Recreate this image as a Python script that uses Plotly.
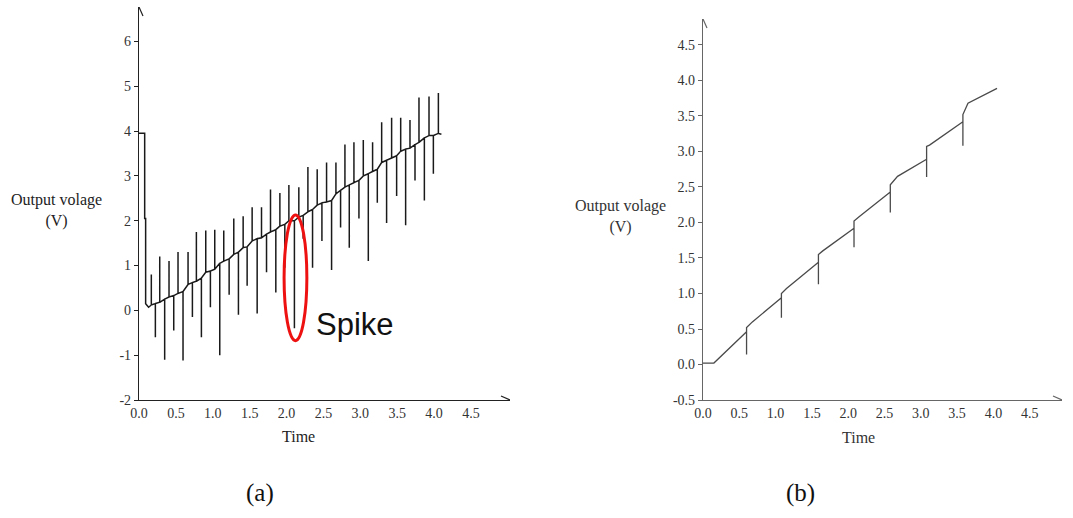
import plotly.graph_objects as go

# ---- panel (a): output voltage with spikes ----
a_start_t = [0.0, 0.077, 0.077, 0.09, 0.09, 0.13]
a_start_v = [3.95, 3.95, 2.05, 2.05, 0.15, 0.07]

a_spike_t = [0.167, 0.222, 0.281, 0.348, 0.407, 0.471, 0.529, 0.597, 0.665, 0.724,
             0.778, 0.846, 0.905, 0.968, 1.027, 1.095, 1.149, 1.222, 1.285, 1.348,
             1.412, 1.466, 1.534, 1.602, 1.661, 1.729, 1.783, 1.855, 1.910, 1.977,
             2.032, 2.107, 2.167, 2.226, 2.290, 2.353, 2.416, 2.480, 2.543, 2.611,
             2.670, 2.733, 2.792, 2.851, 2.914, 2.982, 3.041, 3.109, 3.167, 3.231,
             3.290, 3.357, 3.425, 3.493, 3.548, 3.615, 3.674, 3.742, 3.796, 3.869,
             3.932, 3.991, 4.059]
a_spike_base = [0.12, 0.15, 0.18, 0.25, 0.30, 0.33, 0.38, 0.42, 0.58, 0.62,
                0.65, 0.72, 0.85, 0.88, 0.92, 1.05, 1.10, 1.15, 1.25, 1.30,
                1.40, 1.42, 1.55, 1.60, 1.62, 1.70, 1.75, 1.80, 1.88, 1.92,
                2.00, 2.00, 2.08, 2.12, 2.20, 2.25, 2.35, 2.40, 2.42, 2.45,
                2.60, 2.68, 2.75, 2.80, 2.85, 2.90, 3.00, 3.05, 3.10, 3.15,
                3.30, 3.35, 3.40, 3.45, 3.55, 3.60, 3.62, 3.70, 3.75, 3.85,
                3.90, 3.90, 3.95]
a_spike_peak = [0.80, -0.60, 1.20, -1.10, 1.10, -0.45, 1.30, -1.12, 1.30, -0.15,
                1.75, -0.60, 1.78, 0.07, 1.80, -1.00, 1.78, 0.35, 2.05, -0.10,
                2.10, 0.55, 2.30, -0.07, 2.30, 0.85, 2.70, 0.40, 2.62, 0.95,
                2.80, -0.40, 2.75, 1.60, 3.20, 0.95, 3.15, 1.55, 3.30, 0.90,
                3.30, 1.85, 3.70, 1.40, 3.75, 2.05, 3.80, 1.10, 3.75, 2.40,
                4.20, 1.95, 4.30, 2.55, 4.30, 1.90, 4.25, 2.90, 4.75, 2.45,
                4.77, 3.05, 4.85]
a_end_t = [4.10]
a_end_v = [3.93]

# ---- panel (b): output voltage, spikes suppressed ----
b_start_t = [0.0, 0.15]
b_start_v = [0.02, 0.02]
b_jump_t = [0.60, 1.08, 1.59, 2.08, 2.58, 3.08, 3.58]
b_pre = [0.46, 0.94, 1.44, 1.92, 2.43, 2.89, 3.42]
b_dip = [0.14, 0.66, 1.13, 1.65, 2.14, 2.64, 3.08]
b_post = [0.52, 1.00, 1.55, 2.02, 2.53, 3.07, 3.52]
b_knee_t = [0.68, 1.15, 1.65, 2.15, 2.68, 3.12, 3.65]
b_knee_v = [0.60, 1.07, 1.60, 2.08, 2.65, 3.09, 3.68]
b_end_t = [4.05]
b_end_v = [3.89]

ticks_x = [0.0, 0.5, 1.0, 1.5, 2.0, 2.5, 3.0, 3.5, 4.0, 4.5]
ticks_a_y = [-2, -1, 0, 1, 2, 3, 4, 5, 6]
ticks_b_y = [-0.5, 0.0, 0.5, 1.0, 1.5, 2.0, 2.5, 3.0, 3.5, 4.0, 4.5]

# build the traces
ax_t, ax_v = list(a_start_t), list(a_start_v)
for t, b, p in zip(a_spike_t, a_spike_base, a_spike_peak):
    ax_t += [t, t, t]
    ax_v += [b, p, b]
ax_t += a_end_t
ax_v += a_end_v

bx_t, bx_v = list(b_start_t), list(b_start_v)
for t, pre, dip, post, kt, kv in zip(b_jump_t, b_pre, b_dip, b_post, b_knee_t, b_knee_v):
    bx_t += [t, t, t, t, kt]
    bx_v += [pre, dip, pre, post, kv]
bx_t += b_end_t
bx_v += b_end_v

W, H = 1073, 518
serif = "Liberation Serif, Times New Roman, serif"

fig = go.Figure()
fig.add_trace(go.Scatter(x=ax_t, y=ax_v, mode="lines", xaxis="x", yaxis="y",
                         line=dict(color="#1a1a1a", width=1.5), showlegend=False))
fig.add_trace(go.Scatter(x=bx_t, y=bx_v, mode="lines", xaxis="x2", yaxis="y2",
                         line=dict(color="#4a4a4a", width=1.3), showlegend=False))

xa_range = [0, 5.03]
ya_range = [-2, 6.77]
xb_range = [0, 4.945]
yb_range = [-0.5, 4.866]

axis_common = dict(showgrid=False, zeroline=False, showline=True, mirror=False,
                   automargin=False,
                   tickfont=dict(family=serif, size=14, color="#333"))

fig.update_layout(
    width=W, height=H,
    margin=dict(l=0, r=0, t=0, b=0, pad=0, autoexpand=False),
    showlegend=False,
    paper_bgcolor="white", plot_bgcolor="white",
    xaxis=dict(domain=[139 / W, 510 / W], range=xa_range, anchor="y",
               tickvals=ticks_x, ticktext=[f"{v:.1f}" for v in ticks_x], ticks="",
               linecolor="#222", linewidth=1.2, **axis_common),
    yaxis=dict(domain=[(H - 400) / H, (H - 7) / H], range=ya_range, anchor="x",
               tickvals=ticks_a_y, ticktext=[str(v) for v in ticks_a_y],
               ticks="outside", ticklen=4, tickcolor="#222",
               linecolor="#222", linewidth=1.2, **axis_common),
    xaxis2=dict(domain=[703 / W, 1062 / W], range=xb_range, anchor="y2",
                tickvals=ticks_x, ticktext=[f"{v:.1f}" for v in ticks_x], ticks="",
                linecolor="#666", linewidth=1.2, **axis_common),
    yaxis2=dict(domain=[(H - 400) / H, (H - 19) / H], range=yb_range, anchor="x2",
                tickvals=ticks_b_y, ticktext=[f"{v:.1f}" for v in ticks_b_y],
                ticks="outside", ticklen=4,
                tickcolor="#666", linecolor="#666", linewidth=1.2, **axis_common),
)

# open arrowheads at the axis ends
shapes = []
for xname, yname, xref, yref, col in [("xaxis", "yaxis", "x", "y", "#222"),
                                      ("xaxis2", "yaxis2", "x2", "y2", "#666")]:
    xmax = fig.layout[xname].range[1]
    ymin = fig.layout[yname].range[0]
    ymax = fig.layout[yname].range[1]
    shapes.append(dict(type="path", xref=xref, yref=yref, xsizemode="pixel", ysizemode="pixel",
                       xanchor=xmax, yanchor=ymin, path="M-9,-4 L0,0 L-9,4",
                       line=dict(color=col, width=1.2)))
    shapes.append(dict(type="path", xref=xref, yref=yref, xsizemode="pixel", ysizemode="pixel",
                       xanchor=0, yanchor=ymax, path="M-4,-9 L0,0 L4,-9",
                       line=dict(color=col, width=1.2)))

# red ellipse around the spike
shapes.append(dict(type="circle", xref="x", yref="y", x0=1.967, x1=2.276, y0=-0.676, y1=2.13,
                   line=dict(color="#ee1111", width=3)))
fig.update_layout(shapes=shapes)


def label(cx, cy, text, font):
    return dict(x=cx / W, y=1 - cy / H, xref="paper", yref="paper", showarrow=False,
                xanchor="center", yanchor="middle", align="center", text=text, font=font)


ann = []
for cx, cy, col in [(56, 210, "#222"), (620, 217, "#333")]:
    ann.append(label(cx, cy, "Output volage<br>(V)", dict(family=serif, size=16, color=col)))
for cx, cy, col in [(298, 436, "#222"), (858, 437, "#333")]:
    ann.append(label(cx, cy, "Time", dict(family=serif, size=16, color=col)))
for cx, lab in [(260, "(a)"), (800, "(b)")]:
    ann.append(label(cx, 493, lab, dict(family=serif, size=25, color="#111")))
ann.append(label(355, 324, "Spike",
                 dict(family="Liberation Sans, Arial, sans-serif", size=31, color="#111")))
fig.update_layout(annotations=ann)

fig.write_html("out.html", config={"displayModeBar": False},
               post_script="document.body.style.margin = '0';")
